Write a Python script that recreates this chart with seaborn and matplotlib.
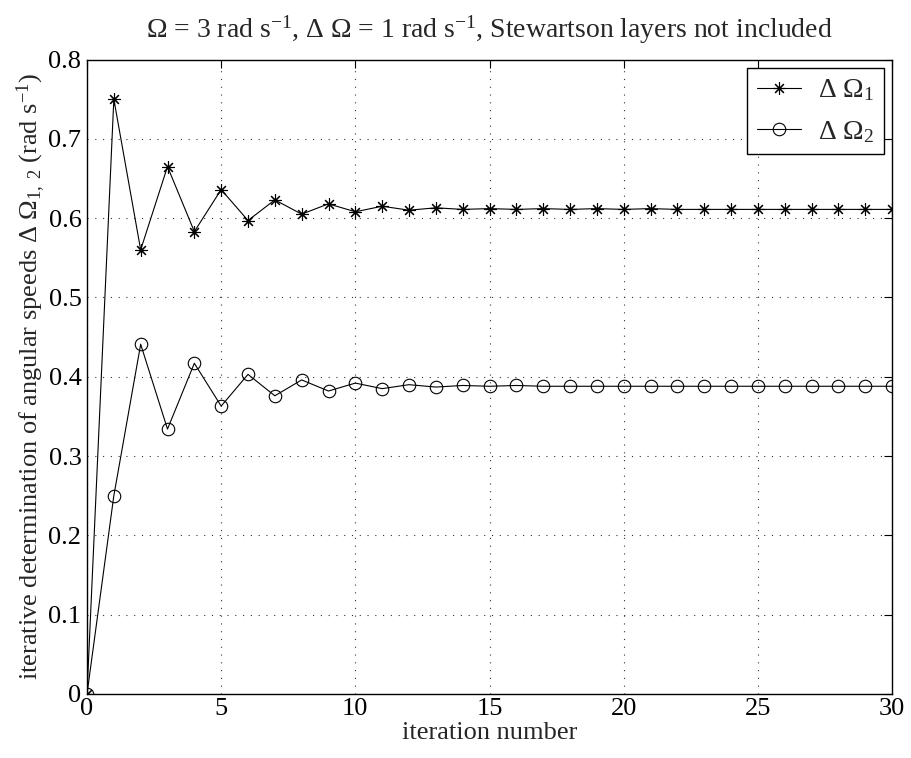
import numpy as np
import pandas as pd
import matplotlib
matplotlib.use("Agg")
import matplotlib.pyplot as plt
import seaborn as sns

iterations = list(range(31))
delta_omega_1 = [0.000, 0.750, 0.560, 0.665, 0.583, 0.636, 0.597, 0.623, 0.605, 0.618,
                 0.608, 0.615, 0.610, 0.613, 0.611, 0.612, 0.611, 0.612, 0.611, 0.612,
                 0.611, 0.612, 0.611, 0.611, 0.611, 0.611, 0.611, 0.611, 0.611, 0.611, 0.611]
delta_omega_2 = [0.000, 0.250, 0.441, 0.334, 0.417, 0.363, 0.403, 0.376, 0.396, 0.382,
                 0.392, 0.385, 0.390, 0.387, 0.389, 0.388, 0.389, 0.388, 0.388, 0.388,
                 0.388, 0.388, 0.388, 0.388, 0.388, 0.388, 0.388, 0.388, 0.388, 0.388, 0.388]
x_ticks = [0, 5, 10, 15, 20, 25, 30]
y_ticks = [0, 0.1, 0.2, 0.3, 0.4, 0.5, 0.6, 0.7, 0.8]
y_tick_labels = ["0", "0.1", "0.2", "0.3", "0.4", "0.5", "0.6", "0.7", "0.8"]

sns.set_theme(style="white")
plt.rcParams["font.family"] = ["Liberation Serif", "DejaVu Serif"]
plt.rcParams["mathtext.fontset"] = "custom"
plt.rcParams["mathtext.rm"] = "Liberation Serif"
plt.rcParams["mathtext.it"] = "Liberation Serif:italic"
plt.rcParams["mathtext.bf"] = "Liberation Serif:bold"

FS = 19

df = pd.DataFrame({"it": iterations, "d1": delta_omega_1, "d2": delta_omega_2})

fig = plt.figure(figsize=(9.11, 7.58), dpi=100)
ax = fig.add_axes([87 / 911, 1 - 694 / 758, (892 - 87) / 911, (694 - 59.5) / 758])

sns.lineplot(data=df, x="it", y="d1", ax=ax, color="black", linewidth=0.8,
             marker=(8, 2, 0), markersize=9, markeredgewidth=0.8,
             markeredgecolor="black", label=r"$\Delta\ \Omega_1$")
sns.lineplot(data=df, x="it", y="d2", ax=ax, color="black", linewidth=0.8,
             marker="o", markersize=9, markerfacecolor="none", markeredgewidth=0.8,
             markeredgecolor="black", label=r"$\Delta\ \Omega_2$")

ax.set_xlim(0, 30)
ax.set_ylim(0, 0.8)
ax.set_xticks(x_ticks)
ax.set_xticklabels([str(t) for t in x_ticks])
ax.set_yticks(y_ticks)
ax.set_yticklabels(y_tick_labels)
ax.tick_params(direction="in", length=6, width=0.8, top=True, right=True,
               labelsize=FS, colors="black")
ax.tick_params(axis="x", pad=3)
ax.tick_params(axis="y", pad=4)
ax.grid(True, linestyle=(0, (1, 6)), color="#333333", linewidth=0.8)
for s in ax.spines.values():
    s.set_color("black")
    s.set_linewidth(1.0)

ax.set_xlabel("iteration number", fontsize=FS, labelpad=1)
ax.set_ylabel(r"iterative determination of angular speeds $\Delta\ \Omega_{1,\ 2}$ (rad s$^{-1}$)",
              fontsize=FS, labelpad=0)
ax.set_title(r"$\Omega$ = 3 rad s$^{-1}$, $\Delta\ \Omega$ = 1 rad s$^{-1}$, Stewartson layers not included",
             fontsize=FS + 1, pad=16)

leg = ax.legend(loc="upper right", fontsize=FS + 1, frameon=True, fancybox=False,
                edgecolor="black", framealpha=1, borderaxespad=0.3,
                handlelength=1.6, handletextpad=0.6, borderpad=0.35, labelspacing=0.55)
leg.get_frame().set_linewidth(1.0)

fig.savefig("out.png", dpi=100)
